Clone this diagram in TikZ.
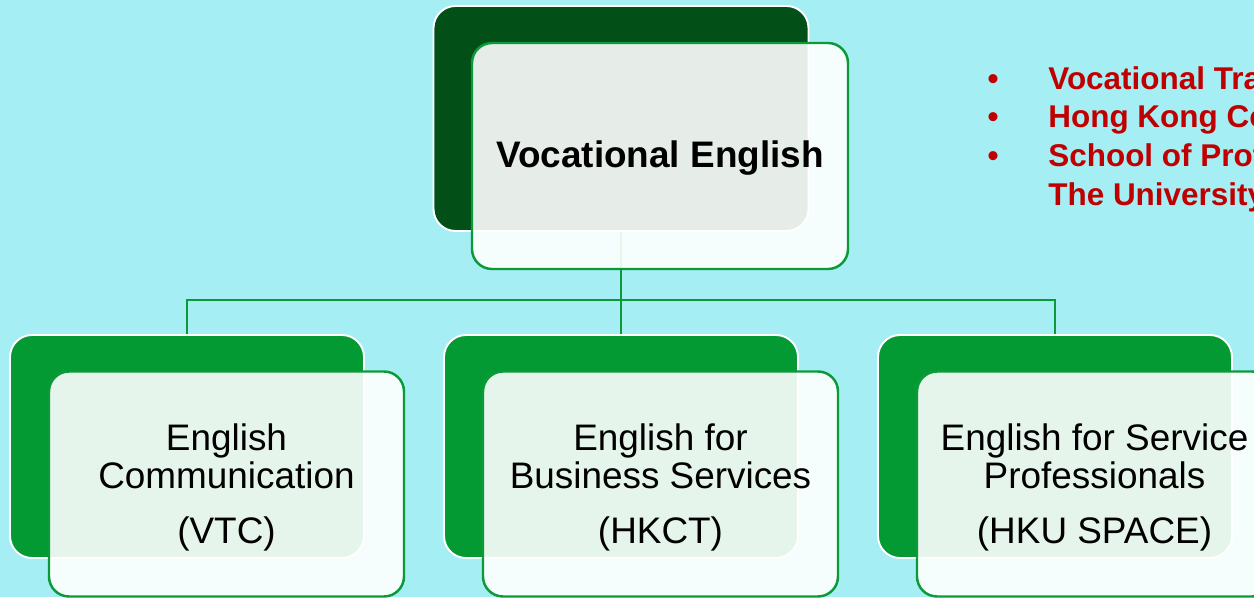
\documentclass[tikz,border=0pt]{standalone}
\usepackage{fontspec}
\setmainfont{Liberation Sans}
\usetikzlibrary{calc}
\definecolor{ve_cyan}{RGB}{164, 238, 244}
\definecolor{ve_dark}{RGB}{2, 79, 24}
\definecolor{ve_green}{RGB}{3, 154, 51}
\definecolor{ve_line}{RGB}{12, 154, 56}
\definecolor{ve_red}{RGB}{192, 0, 0}
\tikzstyle{bk}=[rectangle,rounded corners=0.44cm,draw=white,
  line width=1.1pt,minimum width=7.08cm,minimum height=4.46cm]
\tikzstyle{fr}=[rectangle,rounded corners=0.4cm,draw=ve_line,fill=white,
  fill opacity=0.9,line width=1.4pt,minimum width=7.1cm,minimum height=4.5cm]
\tikzstyle{lbl}=[inner sep=0pt,align=center,anchor=north,
  font=\fontsize{21}{21.6}\selectfont]
\tikzstyle{rd}=[inner sep=0pt,text=ve_red,
  font=\fontsize{17.9}{21.9}\selectfont\bfseries]
\tikzstyle{conn}=[draw=ve_line,line width=1.3pt]

\begin{document}
\begin{tikzpicture}
        \useasboundingbox (0,0) rectangle (25.08,11.94);
        \clip (0,0) rectangle (25.08,11.94);
        \fill[ve_cyan] (0,0) rectangle (25.08,11.94);
        % cards
        \node[style=bk,fill=ve_dark,minimum width=7.5cm,minimum height=4.5cm] (0) at (12.42, 9.57) {};
		\node[style=bk,fill=ve_green] (2) at (3.74, 3.01) {};
		\node[style=bk,fill=ve_green] (4) at (12.42, 3.01) {};
		\node[style=bk,fill=ve_green] (6) at (21.1, 3.01) {};
        \coordinate (j) at (12.42, 5.94);
        \draw[style=conn] (0.south) to (j);
		\draw[style=conn] (j) -| (2.north);
		\draw[style=conn] (j) to (4.north);
		\draw[style=conn] (j) -| (6.north);
        % front cards
		\node[style=fr,minimum width=7.52cm,minimum height=4.52cm] (1) at (13.2, 8.82) {};
		\node[style=fr] (3) at (4.53, 2.26) {};
		\node[style=fr] (5) at (13.21, 2.26) {};
		\node[style=fr] (7) at (21.89, 2.26) {};
        % texts
        \node[anchor=base,font=\fontsize{21}{24}\selectfont\bfseries] (top) at (13.2, 8.58) {Vocational English};
		\node[style=lbl] (vtc) at (4.53, 3.48) {English\\Communication\\[9.7pt](VTC)};
		\node[style=lbl] (hkct) at (13.21, 3.48) {English for\\Business Services\\[9.7pt](HKCT)};
		\node[style=lbl] (hku) at (21.89, 3.48) {English for Service\\Professionals\\[9.7pt](HKU SPACE)};
        % list
		\node[style=rd,anchor=base] (b1) at (19.86, 10.14) {•};
		\node[style=rd,anchor=base] (b2) at (19.86, 9.38) {•};
		\node[style=rd,anchor=base] (b3) at (19.86, 8.6) {•};
		\node[style=rd,anchor=base west] (l1) at (20.96, 10.14) {Vocational Training Council};
		\node[style=rd,anchor=base west] (l2) at (20.96, 9.38) {Hong Kong College of Technology};
		\node[style=rd,anchor=base west] (l3) at (20.96, 8.6) {School of Professional and Continuing Education,};
		\node[style=rd,anchor=base west] (l4) at (20.96, 7.84) {The University of Hong Kong};
    \end{tikzpicture}
\end{document}
